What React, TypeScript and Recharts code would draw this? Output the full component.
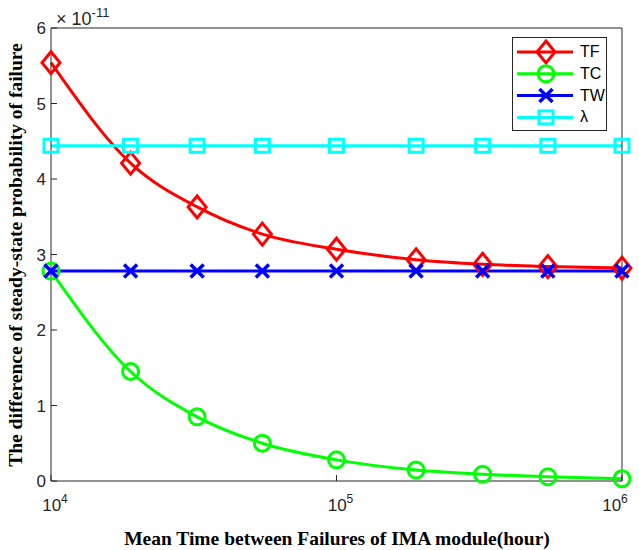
import { CartesianGrid, Legend, Line, LineChart, XAxis, YAxis } from 'recharts';

// MTBF values (hour) where markers sit
const mtbf = [1e4, 1.9e4, 3.25e4, 5.5e4, 1e5, 1.9e5, 3.25e5, 5.5e5, 1e6];
// values in units of 1e-11
const tf = [5.54, 4.21, 3.63, 3.27, 3.07, 2.93, 2.87, 2.84, 2.82];
const tc = [2.78, 1.45, 0.85, 0.5, 0.28, 0.145, 0.09, 0.055, 0.03];
const tw = [2.78, 2.78, 2.78, 2.78, 2.78, 2.78, 2.78, 2.78, 2.78];
const lam = [4.44, 4.44, 4.44, 4.44, 4.44, 4.44, 4.44, 4.44, 4.44];
const yTicks = [0, 1, 2, 3, 4, 5, 6];
const xTicks = [1e4, 1e5, 1e6];

const data = mtbf.map((x, i) => ({ x, tf: tf[i], tc: tc[i], tw: tw[i], lam: lam[i] }));

const AXIS = '#262626';
const SANS = '"Liberation Sans", Arial, sans-serif';
const SERIF = '"Liberation Serif", "Times New Roman", serif';

const series = [
    { key: 'tf', name: 'TF', color: '#ff0000', shape: 'diamond' },
    { key: 'tc', name: 'TC', color: '#00ff00', shape: 'circle' },
    { key: 'tw', name: 'TW', color: '#0000ff', shape: 'cross' },
    { key: 'lam', name: 'λ', color: '#00ffff', shape: 'square' },
];

function Marker({ shape, cx, cy, color }: { shape: string; cx: number; cy: number; color: string }) {
    const sw = 3;
    if (shape === 'diamond')
        return (
            <path
                d={`M${cx},${cy - 11}L${cx + 9},${cy}L${cx},${cy + 11}L${cx - 9},${cy}Z`}
                fill="none"
                stroke={color}
                strokeWidth={sw}
            />
        );
    if (shape === 'circle') return <circle cx={cx} cy={cy} r={8} fill="none" stroke={color} strokeWidth={sw} />;
    if (shape === 'cross')
        return (
            <path
                d={`M${cx - 6.5},${cy - 6.5}L${cx + 6.5},${cy + 6.5}M${cx - 6.5},${cy + 6.5}L${cx + 6.5},${cy - 6.5}`}
                stroke={color}
                strokeWidth={sw + 0.5}
            />
        );
    return <rect x={cx - 7} y={cy - 6.5} width={14} height={13} fill="none" stroke={color} strokeWidth={sw} />;
}

const XTick = ({ x, y, payload }: any) => {
    const exp = Math.round(Math.log10(payload.value));
    return (
        <text x={x + 4} y={y + 14} textAnchor="middle" fill={AXIS} fontSize={17} fontFamily={SANS}>
            10
            <tspan dy={-8} fontSize={12}>
                {exp}
            </tspan>
        </text>
    );
};

const LegendBox = () => (
    <div style={{ width: 95, height: 94, border: `1px solid ${AXIS}`, background: '#fff', boxSizing: 'border-box' }}>
        <svg width={93} height={92}>
            {series.map((s, i) => {
                const cy = 14 + i * 21.8;
                return (
                    <g key={s.key}>
                        <line x1={4} x2={60} y1={cy} y2={cy} stroke={s.color} strokeWidth={3} />
                        <Marker shape={s.shape} cx={33} cy={cy} color={s.color} />
                        <text x={67} y={cy + 5} fontSize={16} fontFamily={SANS} fill="#000">
                            {s.name}
                        </text>
                    </g>
                );
            })}
        </svg>
    </div>
);

export default function App() {
    return (
        <div style={{ position: 'absolute', left: 0, top: 0, width: 639, height: 550, background: '#fff' }}>
            <LineChart width={639} height={550} data={data} margin={{ top: 0, right: 0, bottom: 0, left: 0 }}>
                <CartesianGrid stroke="none" />
                <XAxis
                    dataKey="x"
                    type="number"
                    scale="log"
                    domain={[1e4, 1e6]}
                    ticks={xTicks}
                    height={69}
                    tickSize={-6}
                    tickMargin={22}
                    stroke={AXIS}
                    tick={<XTick />}
                />
                <XAxis
                    xAxisId="top"
                    dataKey="x"
                    type="number"
                    scale="log"
                    orientation="top"
                    domain={[1e4, 1e6]}
                    ticks={xTicks}
                    height={28}
                    tickSize={-6}
                    tick={false}
                    stroke={AXIS}
                />
                <YAxis
                    type="number"
                    domain={[0, 6]}
                    ticks={yTicks}
                    width={51}
                    tickSize={-6}
                    tickMargin={11}
                    stroke={AXIS}
                    tick={{ fill: AXIS, fontSize: 17, fontFamily: SANS }}
                />
                <YAxis
                    yAxisId="right"
                    orientation="right"
                    type="number"
                    domain={[0, 6]}
                    ticks={yTicks}
                    width={17}
                    tickSize={-6}
                    tick={false}
                    stroke={AXIS}
                />
                <Legend
                    layout="horizontal"
                    verticalAlign="middle"
                    align="center"
                    content={() => <LegendBox />}
                    wrapperStyle={{ position: 'absolute', top: 37, left: 512, width: 95, height: 94 }}
                />
                {series.map((s) => (
                    <Line
                        key={s.key}
                        dataKey={s.key}
                        name={s.name}
                        type="monotone"
                        stroke={s.color}
                        strokeWidth={3}
                        isAnimationActive={false}
                        dot={(p: any) => <Marker key={`${s.key}-${p.index}`} shape={s.shape} cx={p.cx} cy={p.cy} color={s.color} />}
                        activeDot={false}
                    />
                ))}
            </LineChart>
            <svg width={639} height={550} style={{ position: 'absolute', left: 0, top: 0, pointerEvents: 'none' }}>
                <text x={56} y={25} fontSize={18} fontFamily={SANS} fill={AXIS}>
                    × 10
                    <tspan dy={-8} fontSize={13}>
                        -11
                    </tspan>
                </text>
                <text x={337} y={545} textAnchor="middle" fontSize={19.5} fontWeight="bold" fontFamily={SERIF} fill="#000">
                    Mean Time between Failures of IMA module(hour)
                </text>
                <text
                    x={0}
                    y={0}
                    transform="translate(22,255) rotate(-90)"
                    textAnchor="middle"
                    fontSize={19.5}
                    fontWeight="bold"
                    fontFamily={SERIF}
                    fill="#000"
                >
                    The difference of steady-state probability of failure
                </text>
            </svg>
        </div>
    );
}
